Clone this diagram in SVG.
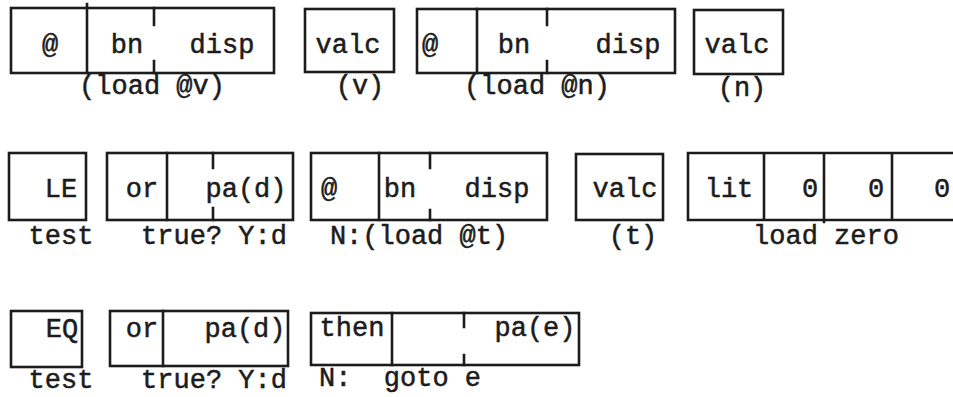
<svg xmlns="http://www.w3.org/2000/svg" width="953" height="397" viewBox="0 0 953 397">
<style>
.b{fill:none;stroke:#1c1c1c;stroke-width:2.6;stroke-linecap:square}
.t{font-family:"Liberation Mono","Courier New",monospace;font-size:27px;fill:#1c1c1c;stroke:#1c1c1c;stroke-width:0.5;text-anchor:middle;white-space:pre}
</style>
<rect width="953" height="397" fill="#fff"/>
<g id="row1">
<g id="loadv">
<rect class="b" x="11" y="8" width="263" height="65"/>
<path class="b" d="M87 4V73M154 8V25M154 61V73"/>
<text class="t" x="50" y="53">@</text>
<text class="t" x="127" y="53">bn</text>
<text class="t" x="222" y="53">disp</text>
<text class="t" x="152" y="94">(load @v)</text>
</g>
<g id="valcv">
<rect class="b" x="305" y="9" width="89" height="63"/>
<text class="t" x="348" y="53">valc</text>
<text class="t" x="360" y="94">(v)</text>
</g>
<g id="loadn">
<rect class="b" x="417" y="9" width="258" height="64"/>
<path class="b" d="M477 9V73M547 9V25M547 61V73"/>
<text class="t" x="430" y="53">@</text>
<text class="t" x="514" y="53">bn</text>
<text class="t" x="628" y="53">disp</text>
<text class="t" x="537" y="94">(load @n)</text>
</g>
<g id="valcn">
<rect class="b" x="694" y="10" width="89" height="64"/>
<text class="t" x="737" y="53">valc</text>
<text class="t" x="742" y="96">(n)</text>
</g>
</g>
<g id="row2">
<g id="le">
<rect class="b" x="9" y="153" width="77" height="67"/>
<text class="t" x="61" y="197">LE</text>
<text class="t" x="61" y="244">test</text>
</g>
<g id="or1">
<rect class="b" x="107" y="153" width="186" height="67"/>
<path class="b" d="M167 153V220M213 153V168M213 208V220"/>
<text class="t" x="142" y="197">or</text>
<text class="t" x="246" y="197">pa(d)</text>
<text class="t" x="214" y="244">true? Y:d</text>
</g>
<g id="loadt">
<rect class="b" x="311" y="153" width="236" height="67"/>
<path class="b" d="M379 153V220M430 153V168M430 210V220"/>
<text class="t" x="329" y="197">@</text>
<text class="t" x="400" y="197">bn</text>
<text class="t" x="497" y="197">disp</text>
<text class="t" x="419" y="244">N:(load @t)</text>
</g>
<g id="valct">
<rect class="b" x="576" y="154" width="87" height="66"/>
<text class="t" x="625" y="197">valc</text>
<text class="t" x="633" y="244">(t)</text>
</g>
<g id="lit">
<path class="b" d="M956 153H688V220H956M764 153V220M824 153V222M892 153V220"/>
<text class="t" x="729" y="197">lit</text>
<text class="t" x="810" y="197">0</text>
<text class="t" x="876" y="197">0</text>
<text class="t" x="942" y="197">0</text>
<text class="t" x="826" y="244">load zero</text>
</g>
</g>
<g id="row3">
<g id="eq">
<rect class="b" x="11" y="311" width="71" height="56"/>
<text class="t" x="62" y="337">EQ</text>
<text class="t" x="61" y="388">test</text>
</g>
<g id="or2">
<rect class="b" x="110" y="311" width="178" height="55"/>
<path class="b" d="M163 311V366"/>
<text class="t" x="142" y="337">or</text>
<text class="t" x="245" y="337">pa(d)</text>
<text class="t" x="214" y="388">true? Y:d</text>
</g>
<g id="then">
<rect class="b" x="311" y="313" width="268" height="52"/>
<path class="b" d="M392 313V365M464 313V327M464 355V365"/>
<text class="t" x="352" y="336">then</text>
<text class="t" x="535" y="336">pa(e)</text>
<text class="t" x="400" y="386">N:  goto e</text>
</g>
</g>
<g id="connectors"/>
</svg>
